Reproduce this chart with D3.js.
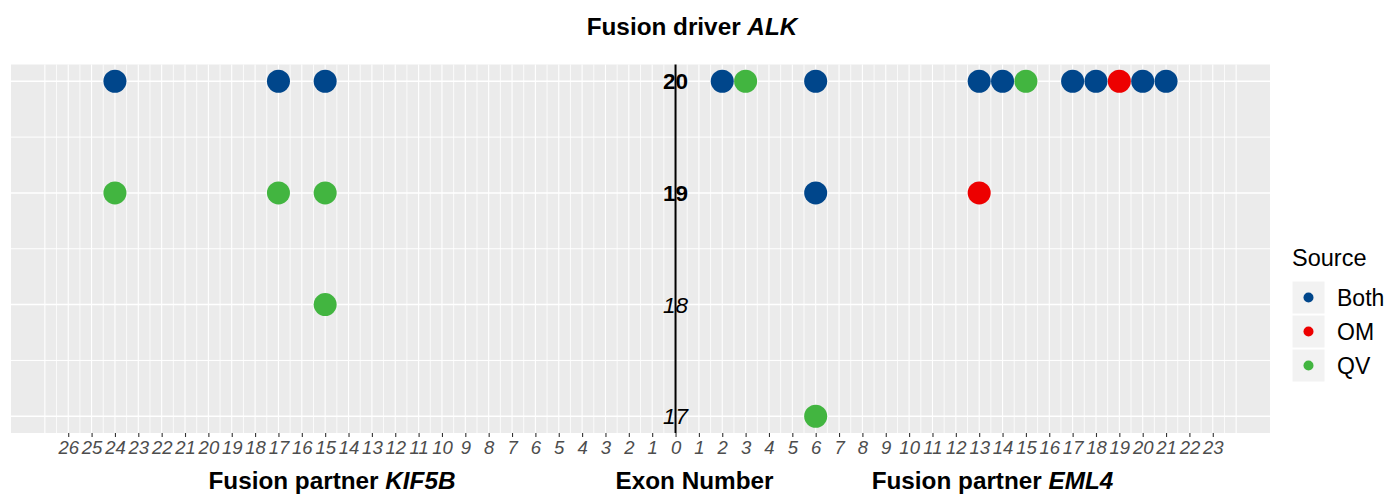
<!DOCTYPE html>
<html>
<head>
<meta charset="utf-8">
<script src="https://cdn.jsdelivr.net/npm/d3@7"></script>
<style>
  html, body { margin: 0; padding: 0; background: #ffffff; }
  svg { display: block; font-family: "Liberation Sans", Arial, Helvetica, sans-serif; }
</style>
</head>
<body>
<svg id="chart" width="1389" height="495"></svg>
<script>
// Fusion breakpoints: partner gene, partner exon, ALK exon and evidence source
const partnerGene = ["KIF5B","KIF5B","KIF5B","KIF5B","KIF5B","KIF5B","KIF5B",
  "EML4","EML4","EML4","EML4","EML4","EML4","EML4","EML4","EML4","EML4","EML4",
  "EML4","EML4","EML4"];
const partnerExon = [24, 17, 15, 24, 17, 15, 15,
  2, 3, 6, 13, 14, 15, 17, 18, 19, 20, 21,
  6, 13, 6];
const alkExon = [20, 20, 20, 19, 19, 19, 18,
  20, 20, 20, 20, 20, 20, 20, 20, 20, 20, 20,
  19, 19, 17];
const source = ["Both","Both","Both","QV","QV","QV","QV",
  "Both","QV","Both","Both","Both","QV","Both","Both","OM","Both","Both",
  "Both","OM","QV"];

const sourceLevels = ["Both", "OM", "QV"];
const sourceColors = ["#00468B", "#ED0000", "#42B540"];
const alkExonLevels = [17, 18, 19, 20];
const alkBold = [20, 19];
const kif5bTicks = d3.range(26, 0, -1);   // 26 … 1 on the left side
const eml4Ticks = d3.range(0, 24);        // 0 … 23 on the right side

const svg = d3.select("#chart");
const panel = { left: 11, right: 1270, top: 64.5, bottom: 433 };

// KIF5B exons run leftwards from zero, EML4 exons rightwards
const x = d3.scaleLinear().domain([-28.45, 25.45]).range([panel.left, panel.right]);
const y = d3.scaleLinear().domain([16.85, 20.15]).range([panel.bottom, panel.top]);
const color = d3.scaleOrdinal().domain(sourceLevels).range(sourceColors);

const rows = partnerExon.map((e, i) => ({
  x: partnerGene[i] === "KIF5B" ? -e : e,
  y: alkExon[i],
  source: source[i]
}));

// panel background
svg.append("rect")
  .attr("x", panel.left).attr("y", panel.top)
  .attr("width", panel.right - panel.left).attr("height", panel.bottom - panel.top)
  .attr("fill", "#EBEBEB");

const grid = svg.append("g");
// vertical grid: every half exon
d3.range(-27, 24.01, 0.5).forEach(v => {
  grid.append("line")
    .attr("x1", x(v)).attr("x2", x(v))
    .attr("y1", panel.top).attr("y2", panel.bottom)
    .attr("stroke", "#ffffff")
    .attr("stroke-width", Number.isInteger(v) ? 1.1 : 0.8);
});
// horizontal grid
d3.range(17, 20.01, 0.5).forEach(v => {
  grid.append("line")
    .attr("x1", panel.left).attr("x2", panel.right)
    .attr("y1", y(v)).attr("y2", y(v))
    .attr("stroke", "#ffffff")
    .attr("stroke-width", Number.isInteger(v) ? 1.5 : 1);
});

// x axis ticks and labels (absolute exon numbers on both sides)
const tickValues = kif5bTicks.map(v => -v).concat(eml4Ticks);
const xAxis = d3.axisBottom(x)
  .tickValues(tickValues)
  .tickFormat(d => String(Math.abs(d)))
  .tickSize(4)
  .tickPadding(4);
const gx = svg.append("g")
  .attr("transform", `translate(0,${panel.bottom})`)
  .call(xAxis);
gx.select(".domain").remove();
gx.selectAll(".tick line").attr("stroke", "#333333").attr("stroke-width", 1.1);
gx.selectAll(".tick text")
  .attr("fill", "#4D4D4D")
  .attr("font-size", "18.5px")
  .attr("font-style", "italic")
  .attr("font-family", "Liberation Sans, Arial, sans-serif");

// central ALK axis
svg.append("line")
  .attr("x1", x(0)).attr("x2", x(0))
  .attr("y1", panel.top).attr("y2", panel.bottom)
  .attr("stroke", "#000000").attr("stroke-width", 2);

svg.append("g").selectAll("text")
  .data(alkExonLevels)
  .join("text")
  .attr("x", x(0))
  .attr("y", d => y(d))
  .attr("dy", "0.36em")
  .attr("text-anchor", "middle")
  .attr("font-size", "22.5px")
  .attr("font-weight", d => alkBold.includes(d) ? "bold" : "normal")
  .attr("font-style", d => alkBold.includes(d) ? "normal" : "italic")
  .attr("fill", "#000000")
  .text(d => d);

// breakpoints, drawn in source order
const ordered = rows.slice().sort((a, b) => sourceLevels.indexOf(a.source) - sourceLevels.indexOf(b.source));
svg.append("g").selectAll("circle")
  .data(ordered)
  .join("circle")
  .attr("cx", d => x(d.x))
  .attr("cy", d => y(d.y))
  .attr("r", 11.5)
  .attr("fill", d => color(d.source));

// titles
svg.append("text")
  .attr("x", 692).attr("y", 35)
  .attr("text-anchor", "middle")
  .attr("font-size", "24.3px").attr("font-weight", "bold")
  .call(t => {
    t.append("tspan").text("Fusion driver ");
    t.append("tspan").attr("font-style", "italic").text("ALK");
  });

const bottomTitles = [
  { cx: 332, plain: "Fusion partner ", gene: "KIF5B" },
  { cx: 694.5, plain: "Exon Number", gene: "" },
  { cx: 992.5, plain: "Fusion partner ", gene: "EML4" }
];
bottomTitles.forEach(b => {
  const t = svg.append("text")
    .attr("x", b.cx).attr("y", 489)
    .attr("text-anchor", "middle")
    .attr("font-size", "24.3px").attr("font-weight", "bold");
  t.append("tspan").text(b.plain);
  if (b.gene) t.append("tspan").attr("font-style", "italic").text(b.gene);
});

// legend
const legend = svg.append("g").attr("transform", "translate(1292,0)");
legend.append("text")
  .attr("x", 0).attr("y", 266)
  .attr("font-size", "23.5px")
  .attr("fill", "#000000")
  .text("Source");
const keys = legend.selectAll("g.key")
  .data(sourceLevels)
  .join("g")
  .attr("class", "key")
  .attr("transform", (d, i) => `translate(0,${281 + i * 34})`);
keys.append("rect")
  .attr("width", 33).attr("height", 33)
  .attr("fill", "#F2F2F2")
  .attr("stroke", "#ffffff").attr("stroke-width", 1);
keys.append("circle")
  .attr("cx", 16.5).attr("cy", 16.5).attr("r", 5)
  .attr("fill", d => color(d));
keys.append("text")
  .attr("x", 45).attr("y", 16.5)
  .attr("dy", "0.36em")
  .attr("font-size", "23px")
  .attr("fill", "#000000")
  .text(d => d);
</script>
</body>
</html>
